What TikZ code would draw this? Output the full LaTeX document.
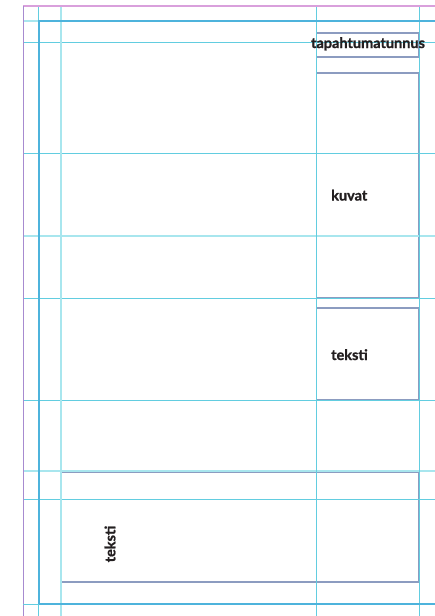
\documentclass[tikz,border=0pt]{standalone}
\usepackage{fontspec}
\newfontfamily\labfont{Lato}[BoldFeatures={FakeBold=1.2}]
\definecolor{gridc}{HTML}{62CDE0}
\definecolor{gridl}{HTML}{A8E6EE}
\definecolor{framec}{HTML}{4DB3DC}
\definecolor{purp}{HTML}{A78BD0}
\definecolor{mag}{HTML}{D9A0DC}
\definecolor{boxc}{HTML}{8C9CC0}
\definecolor{txt}{HTML}{231F20}
\begin{document}
\begin{tikzpicture}[x=1pt,y=-1pt,
  gridline/.style={gridc,line width=1pt},
  gridlight/.style={gridl,line width=1.2pt},
  framebox/.style={framec,line width=1.8pt},
  areabox/.style={draw=boxc,line width=1.3pt,inner sep=0pt},
  lbl/.style={font=\labfont\bfseries\fontsize{14.5}{16}\selectfont,text=txt,inner sep=0pt}]
\useasboundingbox (0,0) rectangle (435,616);
% boxes
\node[areabox,minimum width=102pt,minimum height=24pt] (idbox) at (367.5,45) {};
\node[areabox,minimum width=102pt,minimum height=225pt] (picbox) at (367.5,185.5) {};
\node[areabox,minimum width=102pt,minimum height=92pt] (txtbox) at (367.5,354) {};
\node[areabox,minimum width=358pt,minimum height=110pt] (bigbox) at (240,527) {};
% horizontal grid
\foreach \y in {42,153,298,400,499}{\draw[gridline] (23,\y) -- (435,\y);}
\foreach \y in {21,236,471}{\draw[gridlight] (23,\y) -- (435,\y);}
% vertical grid
\foreach \x in {38,316,419}{\draw[gridline] (\x,6) -- (\x,616);}
\draw[gridlight] (61,6) -- (61,616);
% margins
\draw[mag,line width=1.2pt] (23,6) -- (435,6);
\draw[purp,line width=1.4pt] (23.5,6) -- (23.5,616);
% frame
\draw[framebox] (435,21) -- (39,21) -- (39,604) -- (435,604);
\draw[gridline] (23,604) -- (39,604);
% labels
\node[lbl,anchor=base] (idlbl) at (368,48) {tapahtumatunnus};
\node[lbl,anchor=base west] (piclbl) at (331,200.5) {kuvat};
\node[lbl,anchor=base west] (txtlbl) at (331,360) {teksti};
\node[lbl,rotate=90] (biglbl) at (110,544) {teksti};
\end{tikzpicture}
\end{document}
